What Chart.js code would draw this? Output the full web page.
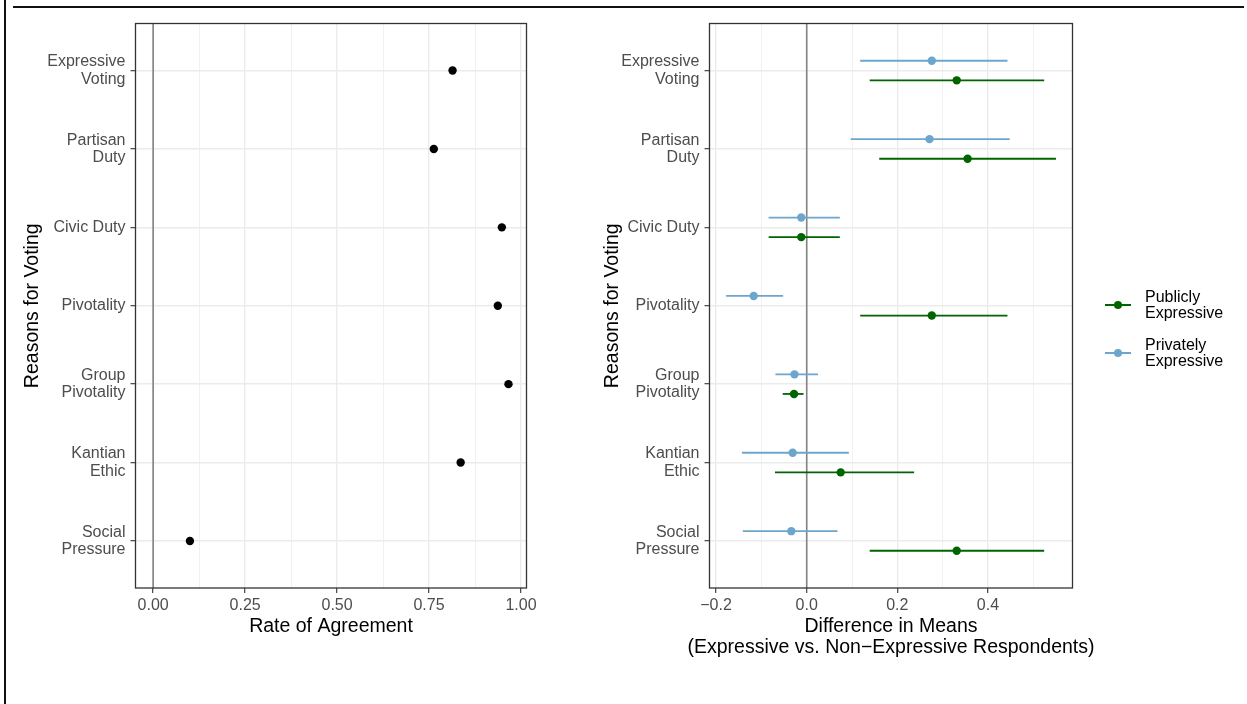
<!DOCTYPE html>
<html>
<head>
<meta charset="utf-8">
<script src="https://cdn.jsdelivr.net/npm/chart.js@4/dist/chart.umd.min.js"></script>
<style>
  body{margin:0;background:#fff;width:1247px;height:704px;overflow:hidden;position:relative;font-family:"Liberation Sans",Arial,sans-serif;}
  canvas{position:absolute;top:0;display:block;}
  #left{left:0;}
  #right{left:560px;}
  .frameV{position:absolute;left:4px;top:0;width:2px;height:704px;background:#111;}
  .frameH{position:absolute;left:13px;top:6px;width:1231px;height:2px;background:#111;}
  .legend{position:absolute;left:1105px;font-size:16px;color:#000;}
  .legend .item{position:relative;height:48px;}
  .legend .mark{position:absolute;left:0;width:26px;height:2px;}
  .legend .dot{position:absolute;left:9px;width:8px;height:8px;border-radius:50%;}
  .legend .txt{position:absolute;left:40px;line-height:16px;white-space:nowrap;}
</style>
</head>
<body>
<div class="frameV"></div>
<div class="frameH"></div>
<canvas id="left" width="560" height="704"></canvas>
<canvas id="right" width="687" height="704"></canvas>
<div class="legend" id="legend" style="top:289px;">
  <div class="item">
    <div class="mark" style="top:15px;background:#006400"></div>
    <div class="dot" style="top:12px;background:#006400"></div>
    <div class="txt" style="top:0">Publicly<br>Expressive</div>
  </div>
  <div class="item">
    <div class="mark" style="top:15px;background:#6CA6CD"></div>
    <div class="dot" style="top:12px;background:#6CA6CD"></div>
    <div class="txt" style="top:0">Privately<br>Expressive</div>
  </div>
</div>
<script>
"use strict";
// categories (top to bottom)
const reasons=[["Expressive","Voting"],["Partisan","Duty"],"Civic Duty","Pivotality",["Group","Pivotality"],["Kantian","Ethic"],["Social","Pressure"]];
// left panel: rate of agreement
const agreement=[0.814,0.763,0.948,0.937,0.966,0.836,0.100];
// right panel: difference in means with intervals
const publicMean=[0.331,0.355,-0.012,0.276,-0.028,0.075,0.331];
const publicLow=[0.139,0.160,-0.084,0.118,-0.053,-0.070,0.139];
const publicHigh=[0.524,0.550,0.073,0.443,-0.007,0.237,0.524];
const privateMean=[0.276,0.271,-0.012,-0.117,-0.027,-0.031,-0.034];
const privateLow=[0.118,0.097,-0.084,-0.178,-0.069,-0.143,-0.141];
const privateHigh=[0.443,0.448,0.073,-0.052,0.025,0.093,0.068];
// tick labels
const leftMajor=[0,0.25,0.5,0.75,1];
const leftMinor=[0.125,0.375,0.625,0.875];
const rightMajor=[-0.2,0,0.2,0.4];
const rightMinor=[-0.1,0.1,0.3,0.5];
const rightXTitle=["Difference in Means","(Expressive vs. Non\u2212Expressive Respondents)"];

Chart.defaults.font.family='"Liberation Sans", Arial, sans-serif';
Chart.defaults.color='#4D4D4D';

const isMajor=(list,v)=>list.some(m=>Math.abs(m-v)<1e-9);

//零线、误差线和面板边框
const panelPlugin={
    id:"panel",
    beforeDatasetsDraw(chart){
        const {ctx,chartArea:a,scales:{x,y}}=chart;
        ctx.save();
        ctx.strokeStyle="#838383";
        ctx.lineWidth=1.6;
        const zx=x.getPixelForValue(0);
        ctx.beginPath();ctx.moveTo(zx,a.top);ctx.lineTo(zx,a.bottom);ctx.stroke();
        chart.data.datasets.forEach(ds=>{
            if(!ds.lo)return;
            ctx.strokeStyle=ds.backgroundColor;
            ctx.lineWidth=1.8;
            ds.data.forEach((p,j)=>{
                const py=y.getPixelForValue(p.y);
                ctx.beginPath();
                ctx.moveTo(x.getPixelForValue(ds.lo[j]),py);
                ctx.lineTo(x.getPixelForValue(ds.hi[j]),py);
                ctx.stroke();
            });
        });
        ctx.restore();
    },
    afterDraw(chart){
        const {ctx,chartArea:a}=chart;
        ctx.save();
        ctx.strokeStyle="#333333";
        ctx.lineWidth=1.3;
        ctx.strokeRect(a.left,a.top,a.right-a.left,a.bottom-a.top);
        //长标题不压缩，自己画
        const lines=chart.options.plugins.panel&&chart.options.plugins.panel.xTitle;
        if(lines){
            ctx.fillStyle="#000";
            ctx.font='19.5px "Liberation Sans", Arial, sans-serif';
            ctx.textAlign="center";
            ctx.textBaseline="middle";
            lines.forEach((t,i)=>ctx.fillText(t,(a.left+a.right)/2,a.bottom+38.5+i*21.6));
        }
        ctx.restore();
    }
};

function makeOptions(cfg){
    return {
        responsive:false,
        animation:false,
        layout:{padding:{top:23.5,right:cfg.padRight,bottom:0,left:0}},
        plugins:{legend:{display:false},tooltip:{enabled:false},panel:{xTitle:cfg.customTitle||null}},
        scales:{
            x:{
                type:"linear",
                min:cfg.min,max:cfg.max,
                afterFit(scale){scale.height=116;},
                afterBuildTicks(scale){
                    scale.ticks=cfg.major.concat(cfg.minor).sort((a,b)=>a-b).map(v=>({value:v}));
                },
                ticks:{
                    autoSkip:false,maxRotation:0,padding:3,
                    font:{size:16},color:"#4D4D4D",
                    callback:v=>isMajor(cfg.major,v)?cfg.fmt(v):""
                },
                grid:{
                    color:"#EBEBEB",
                    lineWidth:c=>c.tick&&isMajor(cfg.major,c.tick.value)?1.4:0.7,
                    tickColor:c=>c.tick&&isMajor(cfg.major,c.tick.value)?"#333333":"rgba(0,0,0,0)",
                    tickLength:5,tickWidth:1.1
                },
                border:{display:false},
                title:{
                    display:!!cfg.xTitle,text:cfg.xTitle||"",color:"#000",
                    font:{size:19.5,lineHeight:1.1},
                    padding:{top:0,bottom:cfg.xTitlePad||0}
                }
            },
            y:{
                type:"linear",reverse:true,
                min:0.4,max:reasons.length+0.6,
                afterFit(scale){scale.width=cfg.yWidth;},
                afterBuildTicks(scale){
                    scale.ticks=reasons.map((r,i)=>({value:i+1}));
                },
                ticks:{
                    autoSkip:false,padding:5,
                    font:{size:16,lineHeight:1.1},color:"#4D4D4D",
                    callback:v=>reasons[v-1]
                },
                grid:{color:"#EBEBEB",lineWidth:1.4,tickColor:"#333333",tickLength:5,tickWidth:1.1},
                border:{display:false},
                title:{
                    display:true,text:"Reasons for Voting",color:"#000",
                    font:{size:19.5,lineHeight:1.1},
                    padding:{top:cfg.yTitlePad,bottom:0}
                }
            }
        }
    };
}

//左图
new Chart(document.getElementById("left"),{
    type:"scatter",
    data:{
        datasets:[{
            data:agreement.map((v,i)=>({x:v,y:i+1})),
            backgroundColor:"#000",borderWidth:0,pointRadius:4.2
        }]
    },
    options:makeOptions({
        min:-0.048,max:1.015,major:leftMajor,minor:leftMinor,
        fmt:v=>v.toFixed(2),padRight:33.5,yWidth:135.5,
        xTitle:"Rate of Agreement",xTitlePad:66.5,yTitlePad:22
    }),
    plugins:[panelPlugin]
});

//右图，两组上下错开
const dodge=0.125;
new Chart(document.getElementById("right"),{
    type:"scatter",
    data:{
        datasets:[{
            label:"Publicly Expressive",
            data:publicMean.map((v,i)=>({x:v,y:i+1+dodge})),
            lo:publicLow,hi:publicHigh,
            backgroundColor:"#006400",borderWidth:0,pointRadius:4.2
        },{
            label:"Privately Expressive",
            data:privateMean.map((v,i)=>({x:v,y:i+1-dodge})),
            lo:privateLow,hi:privateHigh,
            backgroundColor:"#6CA6CD",borderWidth:0,pointRadius:4.2
        }]
    },
    options:makeOptions({
        min:-0.2145,max:0.5865,major:rightMajor,minor:rightMinor,
        fmt:v=>(v<0?"\u2212":"")+Math.abs(v).toFixed(1),padRight:174.5,yWidth:149.5,
        customTitle:rightXTitle,yTitlePad:41.5
    }),
    plugins:[panelPlugin]
});
</script>
</body>
</html>
